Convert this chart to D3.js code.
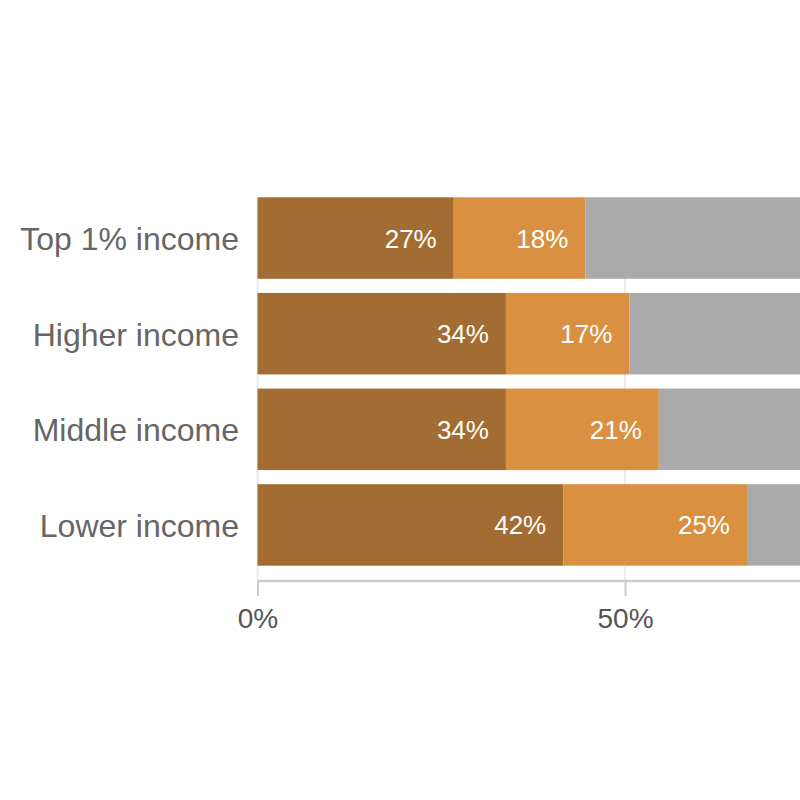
<!DOCTYPE html>
<html>
<head>
<meta charset="utf-8">
<script src="https://cdn.jsdelivr.net/npm/d3@7"></script>
<style>
  html, body { margin: 0; padding: 0; background: #fff; }
  svg { display: block; }
  text { font-family: "Liberation Sans", Arial, Helvetica, sans-serif; }
</style>
</head>
<body>
<svg id="chart" width="800" height="800"></svg>
<script>
const categories = ["Top 1% income", "Higher income", "Middle income", "Lower income"];
const seriesNames = ["first", "second", "rest"];
const firstValues = [26.7, 33.8, 33.8, 41.6];
const secondValues = [17.9, 16.8, 20.8, 25.0];
const restValues = [55.4, 49.4, 45.4, 33.4];
const labelFirst = ["27%", "34%", "34%", "42%"];
const labelSecond = ["18%", "17%", "21%", "25%"];
const tickValues = [0, 50];
const colors = ["#a26c33", "#d99041", "#aaaaaa"];

const rows = categories.map((c, i) => ({
  category: c, first: firstValues[i], second: secondValues[i], rest: restValues[i],
  labels: [labelFirst[i], labelSecond[i], null]
}));

const svg = d3.select("#chart");
const x = d3.scaleLinear().domain([0, 100]).range([257.5, 992.5]);
const y = d3.scaleBand().domain(categories).range([197.3, 565.7]).paddingInner(0.148).paddingOuter(0);

const stacked = d3.stack().keys(seriesNames)(rows);

// gridlines
svg.append("g").selectAll("line").data(tickValues).join("line")
  .attr("x1", d => x(d)).attr("x2", d => x(d))
  .attr("y1", 197).attr("y2", 580)
  .attr("stroke", "#ebebeb").attr("stroke-width", 2);

// bars
const layers = svg.append("g").selectAll("g").data(stacked).join("g")
  .attr("fill", (d, i) => colors[i]);
layers.selectAll("rect").data(d => d).join("rect")
  .attr("x", d => x(d[0]))
  .attr("width", d => x(d[1]) - x(d[0]))
  .attr("y", d => y(d.data.category))
  .attr("height", y.bandwidth());

// value labels
stacked.forEach((layer, li) => {
  svg.append("g").selectAll("text").data(layer.filter(d => d.data.labels[li])).join("text")
    .attr("x", d => x(d[1]) - 17)
    .attr("y", d => y(d.data.category) + y.bandwidth() / 2 + 9.5)
    .attr("text-anchor", "end")
    .attr("fill", "#ffffff")
    .attr("font-size", 26)
    .text(d => d.data.labels[li]);
});

// category labels
svg.append("g").selectAll("text").data(categories).join("text")
  .attr("x", 239)
  .attr("y", d => y(d) + y.bandwidth() / 2 + 12)
  .attr("text-anchor", "end")
  .attr("fill", "#666666")
  .attr("font-size", 32)
  .text(d => d);

// x axis
const axis = svg.append("g").attr("transform", "translate(0,581)")
  .call(d3.axisBottom(x).tickValues(tickValues).tickFormat(d => d + "%").tickSize(15).tickPadding(12));
axis.select(".domain").attr("stroke", "#cccccc").attr("stroke-width", 2.5)
  .attr("d", `M${x(0)},0H${x(100)}`);
axis.selectAll(".tick line").attr("stroke", "#cccccc").attr("stroke-width", 2);
axis.selectAll(".tick text").attr("fill", "#555555").attr("font-size", 28)
  .attr("font-family", '"Liberation Sans", Arial, sans-serif');
</script>
</body>
</html>
